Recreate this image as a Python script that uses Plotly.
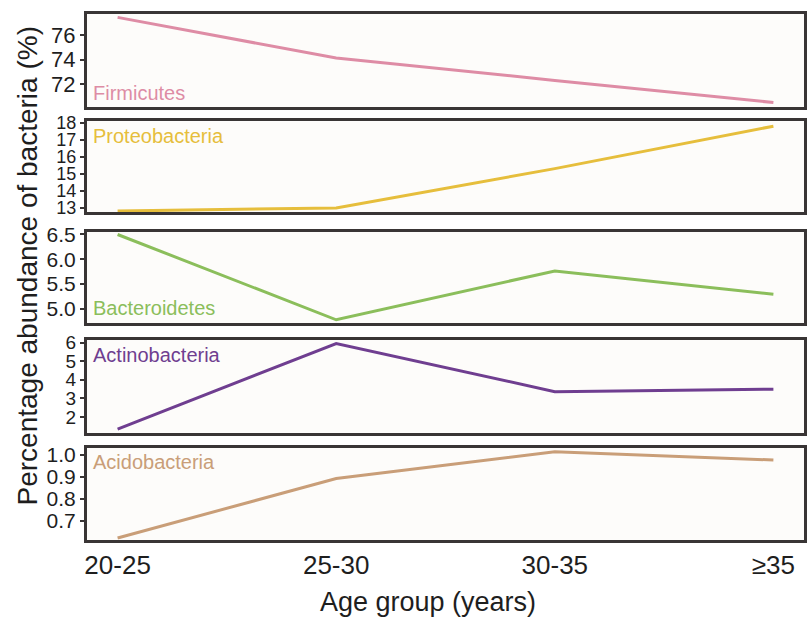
import plotly.graph_objects as go
from plotly.subplots import make_subplots

# Age groups on the shared x axis
age_groups = ["20-25", "25-30", "30-35", "≥35"]

# Mean relative abundance (%) of each phylum per age group
firmicutes = [77.43, 74.12, 72.30, 70.50]
proteobacteria = [12.82, 13.00, 15.31, 17.80]
bacteroidetes = [6.50, 4.78, 5.765, 5.295]
actinobacteria = [1.34, 5.95, 3.36, 3.49]
acidobacteria = [0.621, 0.892, 1.014, 0.976]

phyla = ["Firmicutes", "Proteobacteria", "Bacteroidetes", "Actinobacteria", "Acidobacteria"]
values = [firmicutes, proteobacteria, bacteroidetes, actinobacteria, acidobacteria]
colors = ["#DE8CA5", "#E6BE3C", "#8BBE5B", "#6F3E90", "#C99E78"]

# y-axis ranges and tick values per panel
y_ranges = [[70.1, 77.7], [12.77, 18.08], [4.71, 6.555], [1.155, 6.13], [0.612, 1.033]]
y_ticks = [
    [72, 74, 76],
    [13, 14, 15, 16, 17, 18],
    [5.0, 5.5, 6.0, 6.5],
    [2, 3, 4, 5, 6],
    [0.7, 0.8, 0.9, 1.0],
]
y_ticktext = [
    ["72", "74", "76"],
    ["13", "14", "15", "16", "17", "18"],
    ["5.0", "5.5", "6.0", "6.5"],
    ["2", "3", "4", "5", "6"],
    ["0.7", "0.8", "0.9", "1.0"],
]
# tick label sizes (tighter panels get slightly smaller digits)
y_tick_sizes = [22, 18, 21, 19, 21]
# label placement inside each panel: (y in axis fraction, anchor)
label_pos = [(0.02, "bottom"), (0.98, "top"), (0.02, "bottom"), (0.98, "top"), (0.98, "top")]

# vertical domains of the five stacked panels
domains = [
    [0.8208, 0.998],
    [0.6226, 0.7943],
    [0.4113, 0.5849],
    [0.2038, 0.3792],
    [0.0, 0.1755],
]

FONT = "Liberation Sans, Arial, sans-serif"
FRAME = "#393535"
TEXT = "#1E1E1E"

fig = make_subplots(rows=5, cols=1, shared_xaxes=True)

x_idx = list(range(len(age_groups)))
for i, (name, vals, col) in enumerate(zip(phyla, values, colors)):
    fig.add_trace(
        go.Scatter(x=x_idx, y=vals, mode="lines", name=name,
                   line=dict(color=col, width=3), showlegend=False),
        row=i + 1, col=1,
    )
    yk = "yaxis" if i == 0 else f"yaxis{i + 1}"
    xk = "xaxis" if i == 0 else f"xaxis{i + 1}"
    fig.layout[yk].update(
        domain=domains[i], range=y_ranges[i], tickvals=y_ticks[i], ticktext=y_ticktext[i],
        showgrid=False, zeroline=False, showline=True, mirror=True,
        linecolor=FRAME, linewidth=3, ticks="outside", ticklen=4, tickwidth=2,
        tickcolor=FRAME, tickfont=dict(family=FONT, size=y_tick_sizes[i], color=TEXT),
    )
    fig.layout[xk].update(
        range=[-0.14, 3.14], showgrid=False, zeroline=False, showline=True, mirror=True,
        linecolor=FRAME, linewidth=3, ticks="", tickvals=x_idx,
        ticktext=age_groups, showticklabels=(i == 4),
        tickfont=dict(family=FONT, size=26, color=TEXT),
    )
    yfrac, anchor = label_pos[i]
    d0, d1 = domains[i]
    fig.add_annotation(
        text=name, xref="paper", yref="paper", x=0.006, y=d0 + yfrac * (d1 - d0),
        xanchor="left", yanchor=anchor, showarrow=False,
        font=dict(family=FONT, size=20, color=col),
    )

# x-axis title
fig.add_annotation(
    text="Age group (years)", xref="paper", yref="paper", x=0.476, y=-0.117,
    xanchor="center", yanchor="middle", showarrow=False,
    font=dict(family=FONT, size=27, color=TEXT),
)

# shared y-axis title
fig.add_annotation(
    text="Percentage abundance of bacteria (%)", xref="paper", yref="paper",
    x=-0.083, y=0.52, textangle=-90, showarrow=False, xanchor="center", yanchor="middle",
    font=dict(family=FONT, size=28, color=TEXT),
)

fig.update_layout(
    width=811, height=629,
    margin=dict(l=87, r=4, t=10, b=89),
    paper_bgcolor="white", plot_bgcolor="#FDFCFA",
)

fig.write_html("out.html")
